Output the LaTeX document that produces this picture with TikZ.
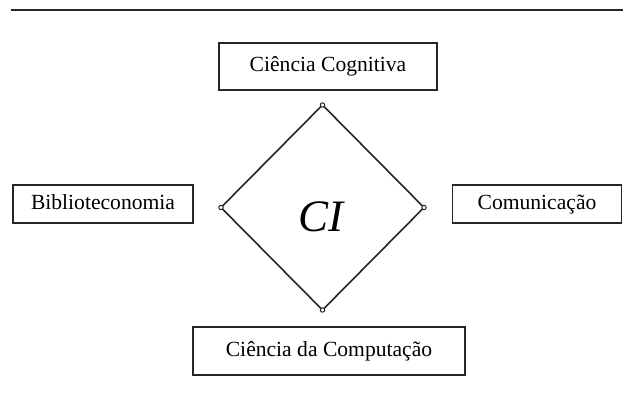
\documentclass[tikz,border=0pt]{standalone}
\usepackage{fontspec}
\setmainfont{Liberation Serif}
\begin{document}
\begin{tikzpicture}[x=1pt,y=1pt,
  areabox/.style={draw=black!85, line width=1.3pt, inner sep=0pt, text height=14.5pt, text depth=4.5pt, font=\fontsize{21.6}{26}\selectfont},
  edge/.style={draw=black!85, line width=1.6pt},
  vmark/.style={draw=black!85, fill=white, line width=1pt}]
\useasboundingbox (0,0) rectangle (623,413);
% top rule
\coordinate (ruleL) at (11,403);
\coordinate (ruleR) at (623,403);
\draw[edge, line width=1.7pt] (ruleL) -- (ruleR);
% boxes
\node[areabox, minimum width=218, minimum height=47] (cog) at (328,346.5) {Ciência Cognitiva};
\node[areabox, minimum width=272, minimum height=48] (comp) at (329,62) {Ciência da Computação};
\node[areabox, minimum width=180, minimum height=38] (bib) at (103,209) {Biblioteconomia};
\node[areabox, minimum width=169, minimum height=38] (com) at (537,209) {Comunicação};
% diamond
\coordinate (dT) at (322.5,308);
\coordinate (dB) at (322.5,103);
\coordinate (dL) at (221,205.5);
\coordinate (dR) at (424,205.5);
\draw[edge] (dT) -- (dR) -- (dB) -- (dL) -- cycle;
\foreach \p in {dT,dB,dL,dR} \draw[vmark] (\p) circle (2.2);
\node[inner sep=0pt, font=\fontsize{45}{50}\selectfont\itshape] (ci) at (321,196) {CI};
\end{tikzpicture}
\end{document}
